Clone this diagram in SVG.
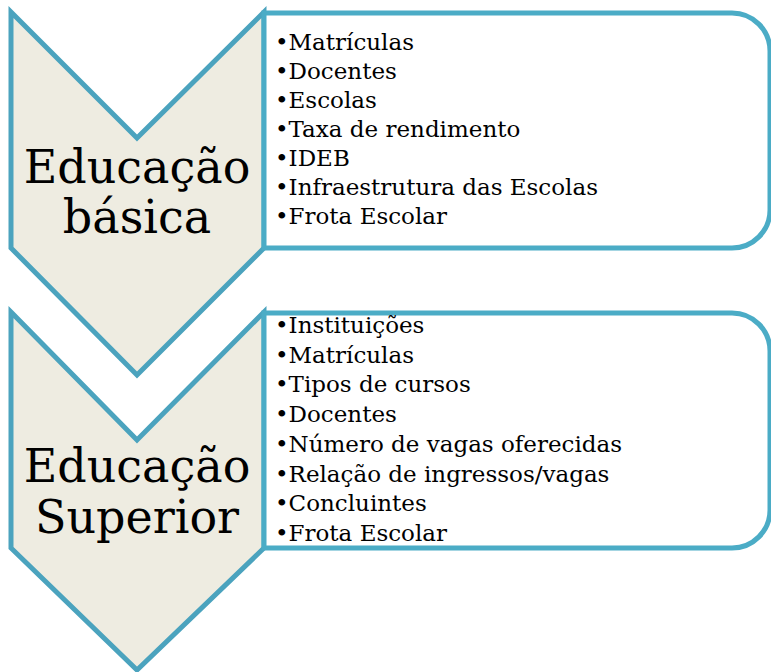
<svg xmlns="http://www.w3.org/2000/svg" width="771" height="672" viewBox="0 0 771 672">
<style>
.chev{fill:#EEECE1;stroke:#4BA3BE;stroke-width:5;stroke-linejoin:miter}
.box{fill:#FFFFFF;stroke:#4BACC6;stroke-width:5}
.big{font-family:"DejaVu Serif","Liberation Serif",serif;font-size:46px;fill:#000;text-anchor:middle}
.item{font-family:"DejaVu Serif","Liberation Serif",serif;font-size:23px;fill:#000}
</style>
<rect width="771" height="672" fill="#FFFFFF"/>
<g id="chevron-basica">
<path class="chev" d="M11,12 L137,138 L264,12 L264,248 L137,375 L11,248 Z"/>
<text class="big" x="137" y="183">Educação</text>
<text class="big" x="137" y="233">básica</text>
</g>
<g id="box-basica">
<path class="box" d="M264,13 H732 A38,38 0 0 1 770,51 V210 A38,38 0 0 1 732,248 H264 Z"/>
<text class="item" x="275" y="50">•Matrículas</text>
<text class="item" x="275" y="79">•Docentes</text>
<text class="item" x="275" y="108">•Escolas</text>
<text class="item" x="275" y="137">•Taxa de rendimento</text>
<text class="item" x="275" y="166">•IDEB</text>
<text class="item" x="275" y="195">•Infraestrutura das Escolas</text>
<text class="item" x="275" y="224">•Frota Escolar</text>
</g>
<g id="chevron-superior">
<path class="chev" d="M11,312 L137,440 L264,312 L264,548 L137,670 L11,548 Z"/>
<text class="big" x="137" y="482">Educação</text>
<text class="big" x="137" y="533">Superior</text>
</g>
<g id="box-superior">
<path class="box" d="M264,313 H732 A38,38 0 0 1 770,351 V510 A38,38 0 0 1 732,548 H264 Z"/>
<text class="item" x="275" y="333">•Instituições</text>
<text class="item" x="275" y="363">•Matrículas</text>
<text class="item" x="275" y="392">•Tipos de cursos</text>
<text class="item" x="275" y="422">•Docentes</text>
<text class="item" x="275" y="452">•Número de vagas oferecidas</text>
<text class="item" x="275" y="482">•Relação de ingressos/vagas</text>
<text class="item" x="275" y="511">•Concluintes</text>
<text class="item" x="275" y="541">•Frota Escolar</text>
</g>
<g id="connectors"></g>
</svg>
